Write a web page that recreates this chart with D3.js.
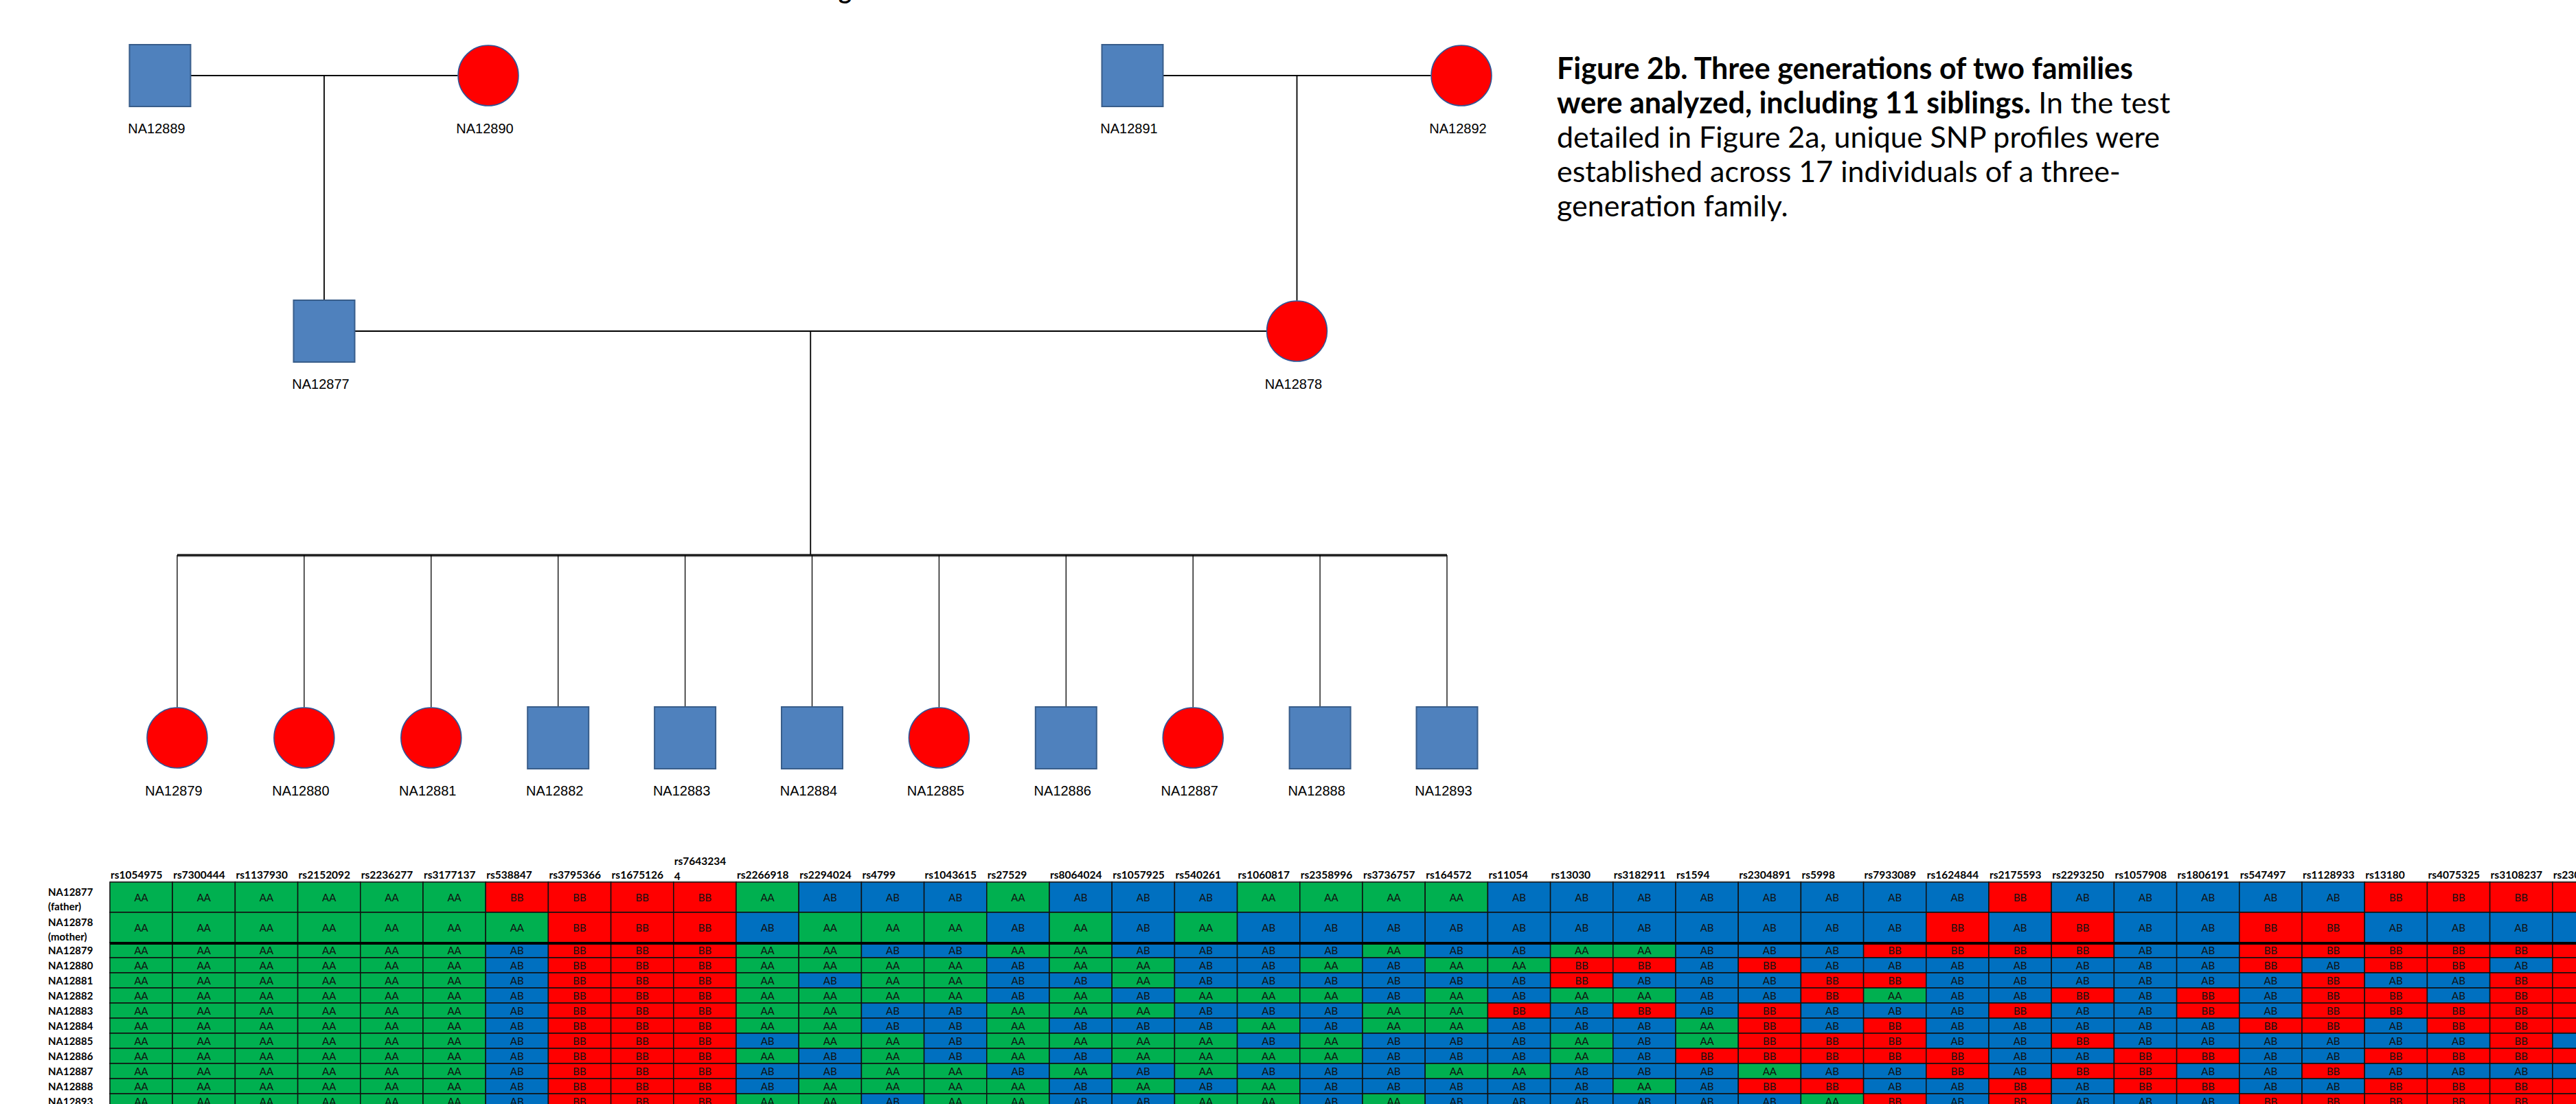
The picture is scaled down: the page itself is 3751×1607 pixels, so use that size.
<!DOCTYPE html>
<html>
<head>
<meta charset="utf-8">
<script src="https://cdn.jsdelivr.net/npm/d3@7"></script>
<style>
  html, body { margin: 0; padding: 0; background: #fff; overflow: hidden; }
  text { font-family: Lato, "Open Sans", sans-serif; }
</style>
</head>
<body>
<svg id="chart" width="3751" height="1607"></svg>
<script>
// ---- pedigree data ----
const grandparents = ["NA12889", "NA12890", "NA12891", "NA12892"];
const parents = ["NA12877", "NA12878"];
const parentRoles = ["(father)", "(mother)"];
const siblings = ["NA12879", "NA12880", "NA12881", "NA12882", "NA12883", "NA12884",
                  "NA12885", "NA12886", "NA12887", "NA12888", "NA12893"];
const males = ["NA12889", "NA12891", "NA12877", "NA12882", "NA12883", "NA12884",
               "NA12886", "NA12888", "NA12893"];

// ---- SNP table data ----
const snpIds = ["rs1054975", "rs7300444", "rs1137930", "rs2152092", "rs2236277", "rs3177137",
  "rs538847", "rs3795366", "rs1675126", "rs76432344", "rs2266918", "rs2294024", "rs4799",
  "rs1043615", "rs27529", "rs8064024", "rs1057925", "rs540261", "rs1060817", "rs2358996",
  "rs3736757", "rs164572", "rs11054", "rs13030", "rs3182911", "rs1594", "rs2304891", "rs5998",
  "rs7933089", "rs1624844", "rs2175593", "rs2293250", "rs1057908", "rs1806191", "rs547497",
  "rs1128933", "rs13180", "rs4075325", "rs3108237", "rs2305480"];

// genotypes per SNP, in row order: father, mother, then the 11 siblings
const snpGenotypes = [
  "AA AA AA AA AA AA AA AA AA AA AA AA AA",
  "AA AA AA AA AA AA AA AA AA AA AA AA AA",
  "AA AA AA AA AA AA AA AA AA AA AA AA AA",
  "AA AA AA AA AA AA AA AA AA AA AA AA AA",
  "AA AA AA AA AA AA AA AA AA AA AA AA AA",
  "AA AA AA AA AA AA AA AA AA AA AA AA AA",
  "BB AA AB AB AB AB AB AB AB AB AB AB AB",
  "BB BB BB BB BB BB BB BB BB BB BB BB BB",
  "BB BB BB BB BB BB BB BB BB BB BB BB BB",
  "BB BB BB BB BB BB BB BB BB BB BB BB BB",
  "AA AB AA AA AA AA AA AA AB AA AB AB AA",
  "AB AA AA AA AB AA AA AA AA AB AB AA AA",
  "AB AA AB AA AA AA AB AB AA AA AA AA AB",
  "AB AA AB AA AA AA AB AB AB AB AA AA AA",
  "AA AB AA AB AB AB AA AA AA AA AB AA AA",
  "AB AA AA AA AB AA AA AB AA AB AA AB AB",
  "AB AB AB AA AA AB AA AB AA AA AB AA AB",
  "AB AA AB AB AB AA AB AB AA AA AA AB AA",
  "AA AB AB AB AB AA AB AA AB AA AB AA AA",
  "AA AB AB AA AB AA AB AB AA AA AB AB AB",
  "AA AB AA AB AB AB AA AA AB AB AB AB AA",
  "AA AB AB AA AB AA AA AA AB AB AA AB AB",
  "AB AB AB AA AB AB BB AB AB AB AA AB AB",
  "AB AB AA BB BB AA AB AB AA AA AB AB AB",
  "AB AB AA BB AB AA BB AB AB AB AB AA AB",
  "AB AB AB AB AB AB AB AA AA BB AB AB AB",
  "AB AB AB BB AB AB BB BB BB BB AA BB AB",
  "AB AB AB AB BB BB AB AB BB BB AB BB AA",
  "AB AB BB AB BB AA AB BB BB BB AB AB BB",
  "AB BB BB AB AB AB AB AB AB BB BB AB AB",
  "BB AB BB AB AB AB BB AB AB AB AB BB BB",
  "AB BB BB AB AB BB AB AB BB AB BB AB AB",
  "AB AB AB AB AB AB AB AB AB BB BB BB AB",
  "AB AB AB AB AB BB BB AB AB BB AB BB AB",
  "AB BB BB BB AB AB AB BB AB AB AB AB BB",
  "AB BB BB AB BB BB BB BB AB AB BB AB BB",
  "BB AB BB BB AB BB BB AB AB BB AB BB BB",
  "BB AB BB BB AB AB BB BB AB BB AB BB BB",
  "BB AB BB AB BB BB BB BB BB BB AB BB BB",
  "BB AB BB BB BB BB BB BB AB BB AB BB BB"
];
const genotypeKeys = ["AA", "AB", "BB"];
const genotypeFills = ["#00B050", "#0070C0", "#FF0000"];

const captionBold = ["Figure 2b. Three generations of two families", "were analyzed, including 11 siblings."];
const captionRest = [" In the test", "detailed in Figure 2a, unique SNP profiles were",
  "established across 17 individuals of a three-", "generation family."];

const svg = d3.select("#chart");

// ================= pedigree =================
const ped = svg.append("g").attr("class", "pedigree");
const half = 44.5;
const genY = d3.scaleOrdinal().domain([1, 2, 3]).range([110, 482, 1074]);
const pos = {};
// first generation centres
[233, 711, 1649, 2128].forEach((x, i) => pos[grandparents[i]] = {x: x, y: genY(1)});
// second generation hangs from the middle of each couple line
const mid = (a, b) => ((pos[a].x + half) + (pos[b].x - half)) / 2;
pos[parents[0]] = {x: mid(grandparents[0], grandparents[1]), y: genY(2)};
pos[parents[1]] = {x: mid(grandparents[2], grandparents[3]), y: genY(2)};
const sibX = d3.scalePoint().domain(siblings).range([258, 2107]);
siblings.forEach(s => pos[s] = {x: sibX(s), y: genY(3)});

function couple(a, b) {
  const y = pos[a].y;
  ped.append("line").attr("x1", pos[a].x + half).attr("x2", pos[b].x - half)
    .attr("y1", y).attr("y2", y).attr("stroke", "#000").attr("stroke-width", 2);
  return mid(a, b);
}
// grandparent couples -> parents
[[0, 1], [2, 3]].forEach(([a, b]) => {
  const m = couple(grandparents[a], grandparents[b]);
  ped.append("line").attr("x1", m).attr("x2", m)
    .attr("y1", genY(1)).attr("y2", genY(2) - half)
    .attr("stroke", "#000").attr("stroke-width", 1.8);
});
// parents -> sibship
const sibLineY = 808;
const pm = couple(parents[0], parents[1]);
ped.append("line").attr("x1", pm).attr("x2", pm).attr("y1", genY(2)).attr("y2", sibLineY)
  .attr("stroke", "#000").attr("stroke-width", 1.8);
ped.append("line").attr("x1", sibX.range()[0]).attr("x2", sibX.range()[1])
  .attr("y1", sibLineY + 1.5).attr("y2", sibLineY + 1.5).attr("stroke", "#bbb").attr("stroke-width", 3);
ped.append("line").attr("x1", sibX.range()[0]).attr("x2", sibX.range()[1])
  .attr("y1", sibLineY).attr("y2", sibLineY).attr("stroke", "#111").attr("stroke-width", 3);
ped.selectAll("line.kid").data(siblings).join("line").attr("class", "kid")
  .attr("x1", d => sibX(d)).attr("x2", d => sibX(d))
  .attr("y1", sibLineY).attr("y2", d => genY(3) - half)
  .attr("stroke", "#000").attr("stroke-width", 1.3);

// symbols
const people = grandparents.concat(parents, siblings);
people.forEach(id => {
  const p = pos[id];
  if (males.includes(id)) {
    ped.append("rect").attr("x", p.x - half).attr("y", p.y - 45).attr("width", 89).attr("height", 90)
      .attr("fill", "#4F81BD").attr("stroke", "#385D8A").attr("stroke-width", 2);
  } else {
    ped.append("circle").attr("cx", p.x).attr("cy", p.y).attr("r", 44)
      .attr("fill", "#FF0000").attr("stroke", "#2F5597").attr("stroke-width", 1.5);
  }
  ped.append("text").attr("x", p.x - 5).attr("y", p.y + 84)
    .attr("text-anchor", "middle").attr("font-size", 20)
    .style("font-family", "'Liberation Sans', Arial, sans-serif")
    .attr("fill", "#000").text(id);
});

// cut-off title descender at the very top
svg.append("text").attr("x", 1221).attr("y", -1).attr("font-size", 36).attr("font-weight", 700)
  .attr("fill", "#000").text("g");

// ================= caption =================
const capSize = 43;
const cap = svg.append("g").attr("transform", "translate(2267,0)");
const lineY = d3.scaleLinear().domain([0, 1]).range([115, 165]);
cap.append("text").attr("x", 0).attr("y", lineY(0)).attr("font-size", capSize)
  .attr("font-weight", 700).attr("fill", "#000").text(captionBold[0]);
const t1 = cap.append("text").attr("x", 0).attr("y", lineY(1)).attr("font-size", capSize).attr("fill", "#000");
t1.append("tspan").attr("font-weight", 700).text(captionBold[1]);
t1.append("tspan").attr("font-weight", 400).text(captionRest[0]);
captionRest.slice(1).forEach((s, i) => {
  cap.append("text").attr("x", 0).attr("y", lineY(i + 2)).attr("font-size", capSize)
    .attr("font-weight", 400).attr("fill", "#000").text(s);
});

// ================= SNP genotype table =================
const tbl = svg.append("g").attr("class", "table");
const colW = 91.2;
const x = d3.scaleBand().domain(snpIds).range([160, 160 + colW * snpIds.length]);
const yPar = d3.scaleBand().domain(parents).range([1284, 1372]);
const ySib = d3.scaleBand().domain(siblings).range([1372, 1372 + 22 * siblings.length]);
const rows = parents.concat(siblings);
const yRow = id => parents.includes(id) ? yPar(id) : ySib(id);
const hRow = id => parents.includes(id) ? yPar.bandwidth() : ySib.bandwidth();
const fill = d3.scaleOrdinal().domain(genotypeKeys).range(genotypeFills);

const cells = [];
snpIds.forEach((snp, j) => {
  snpGenotypes[j].split(" ").forEach((g, i) => cells.push({snp: snp, id: rows[i], g: g}));
});

tbl.append("line").attr("x1", 160).attr("x2", 3751).attr("y1", 1282.5).attr("y2", 1282.5)
  .attr("stroke", "#d9d9d9").attr("stroke-width", 1.5);

tbl.selectAll("rect.cell").data(cells).join("rect").attr("class", "cell")
  .attr("x", d => x(d.snp)).attr("y", d => yRow(d.id))
  .attr("width", x.bandwidth()).attr("height", d => hRow(d.id))
  .attr("fill", d => fill(d.g)).attr("stroke", "#111").attr("stroke-width", 1.5);

tbl.selectAll("text.gt").data(cells).join("text").attr("class", "gt")
  .attr("x", d => x(d.snp) + x.bandwidth() / 2)
  .attr("y", d => yRow(d.id) + hRow(d.id) / 2 + 5.5)
  .attr("text-anchor", "middle").attr("font-size", 15).attr("fill", "#111")
  .text(d => d.g);

// thick separator between parents and children
tbl.append("line").attr("x1", 160).attr("x2", 3751).attr("y1", 1373).attr("y2", 1373)
  .attr("stroke", "#000").attr("stroke-width", 4);

// column headers (long ids wrap onto a second line)
snpIds.forEach(s => {
  const t = tbl.append("text").attr("x", x(s) + 1).attr("font-size", 15.5)
    .attr("font-weight", 700).attr("fill", "#000");
  if (s.length > 9) {
    t.attr("y", 1259).text(s.slice(0, 9));
    tbl.append("text").attr("x", x(s) + 1).attr("y", 1281).attr("font-size", 15.5)
      .attr("font-weight", 700).attr("fill", "#000").text(s.slice(9));
  } else {
    t.attr("y", 1279).text(s);
  }
});

// row labels
rows.forEach((id, i) => {
  if (i < parentRoles.length) {
    tbl.append("text").attr("x", 70).attr("y", yRow(id) + 20).attr("font-size", 15)
      .attr("font-weight", 700).attr("fill", "#000").text(id);
    tbl.append("text").attr("x", 70).attr("y", yRow(id) + 41).attr("font-size", 15)
      .attr("font-weight", 700).attr("fill", "#000").text(parentRoles[i]);
  } else {
    tbl.append("text").attr("x", 70).attr("y", yRow(id) + hRow(id) / 2 + 5.5).attr("font-size", 15)
      .attr("font-weight", 700).attr("fill", "#000").text(id);
  }
});
</script>
</body>
</html>
